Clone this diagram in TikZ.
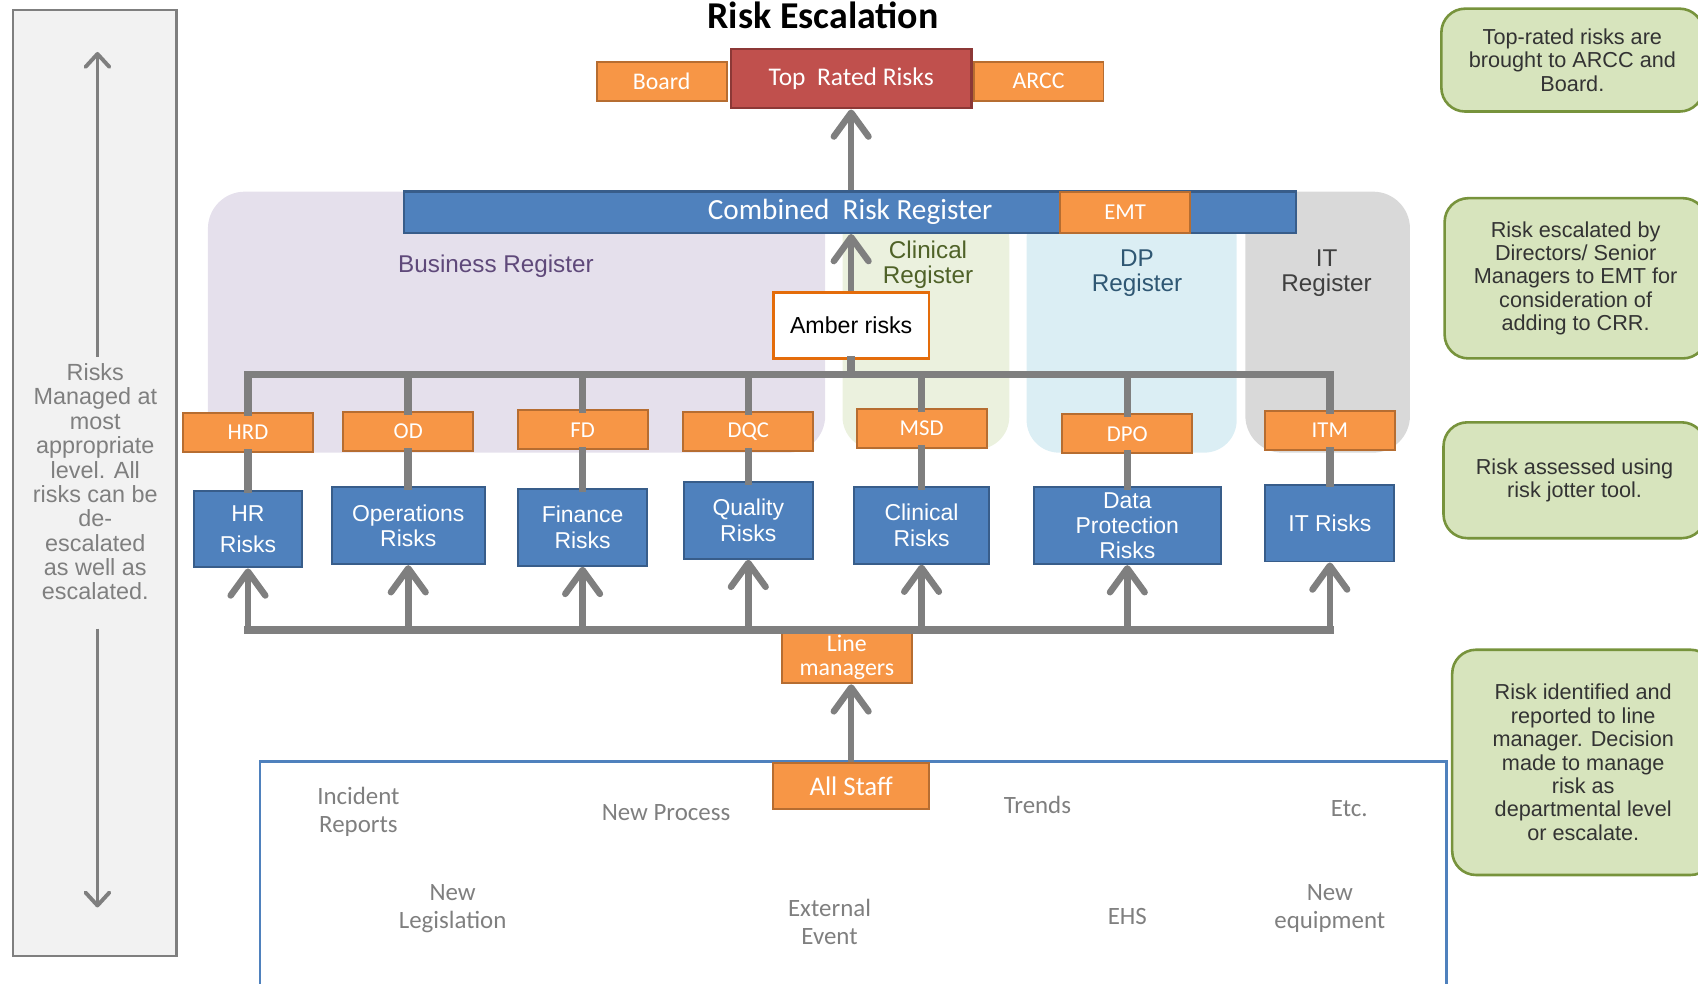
\documentclass[tikz,border=0pt]{standalone}
\usepackage{fontspec}
\setmainfont{Carlito}
\newfontfamily\arialfont{Liberation Sans}
\usetikzlibrary{arrows.meta}
\definecolor{org}{HTML}{F79646}
\definecolor{orgline}{HTML}{B66D31}
\definecolor{blu}{HTML}{4F81BD}
\definecolor{bluline}{HTML}{385D8A}
\definecolor{redf}{HTML}{C0504D}
\definecolor{redline}{HTML}{8C3836}
\definecolor{linegray}{HTML}{7F7F7F}
\definecolor{lav}{HTML}{E5E0EC}
\definecolor{clinbg}{HTML}{EBF1DE}
\definecolor{dpbg}{HTML}{DBEEF4}
\definecolor{itbg}{HTML}{D9D9D9}
\definecolor{notefill}{HTML}{D7E4BD}
\definecolor{noteline}{HTML}{77933C}
\definecolor{notetext}{HTML}{333333}
\definecolor{panel}{HTML}{F2F2F2}
\definecolor{amberline}{HTML}{E46C0A}
\definecolor{busregtext}{HTML}{5F497A}
\definecolor{clintext}{HTML}{4F6228}
\definecolor{dptext}{HTML}{2F5773}
\definecolor{ittext}{HTML}{404040}
\newcommand{\fsz}[2]{\fontsize{#1}{#2}\selectfont}

\begin{document}
\begin{tikzpicture}[x=0.5pt,y=-0.5pt,
  dirbox/.style={draw=orgline,fill=org,line width=0.9pt,minimum width=60pt,minimum height=18pt,inner sep=0pt,text=white,font=\fsz{10.5pt}{12pt}},
  riskbox/.style={draw=bluline,fill=blu,line width=0.9pt,minimum height=35.5pt,inner sep=0pt,align=center,text=white,font=\arialfont\fsz{10.6pt}{11.75pt}},
  note/.style={draw=noteline,fill=notefill,line width=1.2pt,rounded corners=11pt,minimum width=121pt,inner sep=0pt,align=center,text=notetext,font=\arialfont\fsz{10pt}{10.8pt}},
  srctext/.style={text=linegray,align=center,font=\fsz{11.5pt}{13pt}},
  regtext/.style={align=center,font=\arialfont\fsz{11.2pt}{11.5pt}},
  bus/.style={draw=linegray,line width=3.5pt,line cap=rect},
  uparrow/.style={draw=linegray,line width=3pt,-{Straight Barb[length=11pt,width=16pt,round]}},
  sidearrow/.style={draw=linegray,line width=1.8pt,-{Straight Barb[length=6pt,width=11pt,round]}}]
  \useasboundingbox (0,0) rectangle (1568,908);
  \clip (0,0) rectangle (1568,908);
  % side panel
  \draw[linegray,fill=panel,line width=1.1pt] (12,9) rectangle (163,883);
  \node[text=linegray,align=center,inner sep=3pt,font=\arialfont\fsz{10.8pt}{11.25pt}] (leftnote) at (88,445) {Risks\\Managed at\\most\\appropriate\\level. All\\risks can be\\de-\\escalated\\as well as\\escalated.};
  \coordinate (uptip) at (90,48);
  \coordinate (downtip) at (90,838);
  \draw[sidearrow] (leftnote.north -| uptip) -- (uptip);
  \draw[sidearrow,shorten <=10pt] (leftnote.south -| downtip) -- (downtip);
  % register backgrounds
  \fill[lav,rounded corners=17pt] (192,177) rectangle (762,418);
  \fill[clinbg,rounded corners=15pt] (778,190) rectangle (932,415);
  \fill[dpbg,rounded corners=15pt] (948,190) rectangle (1142,418);
  \fill[itbg,rounded corners=17pt] (1150,177) rectangle (1302,418);
  \node[regtext,text=busregtext] (busreg) at (458,246) {Business Register};
  \node[regtext,text=clintext] (clinreg) at (857,244.5) {Clinical\\Register};
  \node[regtext,text=dptext] (dpreg) at (1050,252.5) {DP\\Register};
  \node[regtext,text=ittext] (itreg) at (1225,252.5) {IT\\Register};
  % title and top level
  \node[font=\bfseries\fsz{17.5pt}{20pt},anchor=base] (title) at (760,26) {Risk Escalation};
  \node[dirbox,font=\fsz{11pt}{13pt}] (board) at (611,75) {Board};
  \node[dirbox,font=\fsz{11pt}{13pt}] (arcc) at (959,75) {ARCC};
  \node[draw=redline,fill=redf,line width=1.1pt,minimum width=111pt,minimum height=27.5pt,inner sep=0pt,text=white,font=\fsz{11.75pt}{14pt}] (top) at (786,72.5) {Top~ Rated Risks};
  % combined register
  \node[draw=bluline,fill=blu,line width=1.1pt,minimum width=412pt,minimum height=19pt,inner sep=0pt,text=white,font=\fsz{13.5pt}{15pt}] (crr) at (785,196) {Combined~ Risk Register};
  \node[dirbox,minimum height=19pt] (emt) at (1039,196) {EMT};
  \node[draw=amberline,fill=white,line width=1.2pt,minimum width=72pt,minimum height=30.5pt,inner sep=0pt,font=\arialfont\fsz{10.7pt}{12pt}] (amber) at (786,300.5) {Amber risks};
  \coordinate (topbus) at (786,346);
  \coordinate (lowbus) at (786,582);
  % directorates and their risks
  \foreach \nm/\x/\dy/\ry/\rw/\dname/\rtext in {
    hr/229/399.5/488.5/50pt/HRD/{HR\\[2.5pt]Risks},
    ops/377/398.5/485.5/70.5pt/OD/{Operations\\Risks},
    fin/538/397/487/59.5pt/FD/{Finance\\Risks},
    qual/691/398.5/480.5/59.5pt/DQC/{Quality\\Risks},
    clin/851/395.5/485/62pt/MSD/{Clinical\\Risks},
    dp/1041/400.5/485.5/86.5pt/DPO/{Data\\Protection\\Risks},
    it/1228/397.5/483/59.5pt/ITM/{IT Risks}}
  {
    \node[dirbox] (\nm-dir) at (\x,\dy) {\dname};
    \node[riskbox,minimum width=\rw] (\nm-risk) at (\x,\ry) {\rtext};
  }
  \node[dirbox,minimum height=24pt,align=center,font=\fsz{11pt}{11pt}] (linemgr) at (782,607) {Line\\managers};
  % sources
  \draw[blu,line width=1.2pt] (240,703) rectangle (1336,915);
  \node[dirbox,minimum width=72pt,minimum height=21pt,font=\fsz{12.4pt}{14pt}] (staff) at (786,726) {All Staff};
  \node[srctext] (incident) at (331,750) {Incident\\Reports};
  \node[srctext] (newproc) at (615,750) {New Process};
  \node[srctext] (trends) at (958,743) {Trends};
  \node[srctext] (etcnode) at (1246,747) {Etc.};
  \node[srctext] (legis) at (418,839) {New\\Legislation};
  \node[srctext] (extevent) at (766,851) {External\\Event};
  \node[srctext] (ehs) at (1041,846) {EHS};
  \node[srctext] (newequip) at (1228,839) {New\\equipment};
  % connectors
  \draw[uparrow] (top.south |- crr.north) -- (top.south);
  \draw[uparrow] (amber.north) -- (amber.north |- crr.south);
  \draw[bus] (amber.south) -- (topbus);
  \draw[bus] (hr-dir.north) |- (it-dir.north |- topbus) -- (it-dir.north);
  \draw[bus] (hr-risk.south |- lowbus) -- (it-risk.south |- lowbus);
  \foreach \nm in {ops,fin,qual,clin,dp}
    \draw[bus] (\nm-dir.north |- topbus) -- (\nm-dir.north);
  \foreach \nm in {hr,ops,fin,qual,clin,dp,it}{
    \draw[bus] (\nm-dir.south) -- (\nm-risk.north);
    \draw[uparrow] (\nm-risk.south |- lowbus) -- (\nm-risk.south);
  }
  \draw[uparrow] (staff.north) -- (staff.north |- linemgr.south);
  % notes
  \node[note,minimum height=47.5pt] (note1) at (1452,55.5) {Top-rated risks are\\brought to ARCC and\\Board.};
  \node[note,minimum height=74pt] (note2) at (1455,257) {Risk escalated by\\Directors/ Senior\\Managers to EMT for\\consideration of\\adding to CRR.};
  \node[note,minimum height=53.5pt] (note3) at (1454,443.5) {Risk assessed using\\risk jotter tool.};
  \node[note,minimum height=104pt] (note4) at (1462,704) {Risk identified and\\reported to line\\manager. Decision\\made to manage\\risk as\\departmental level\\or escalate.};
\end{tikzpicture}
\end{document}
